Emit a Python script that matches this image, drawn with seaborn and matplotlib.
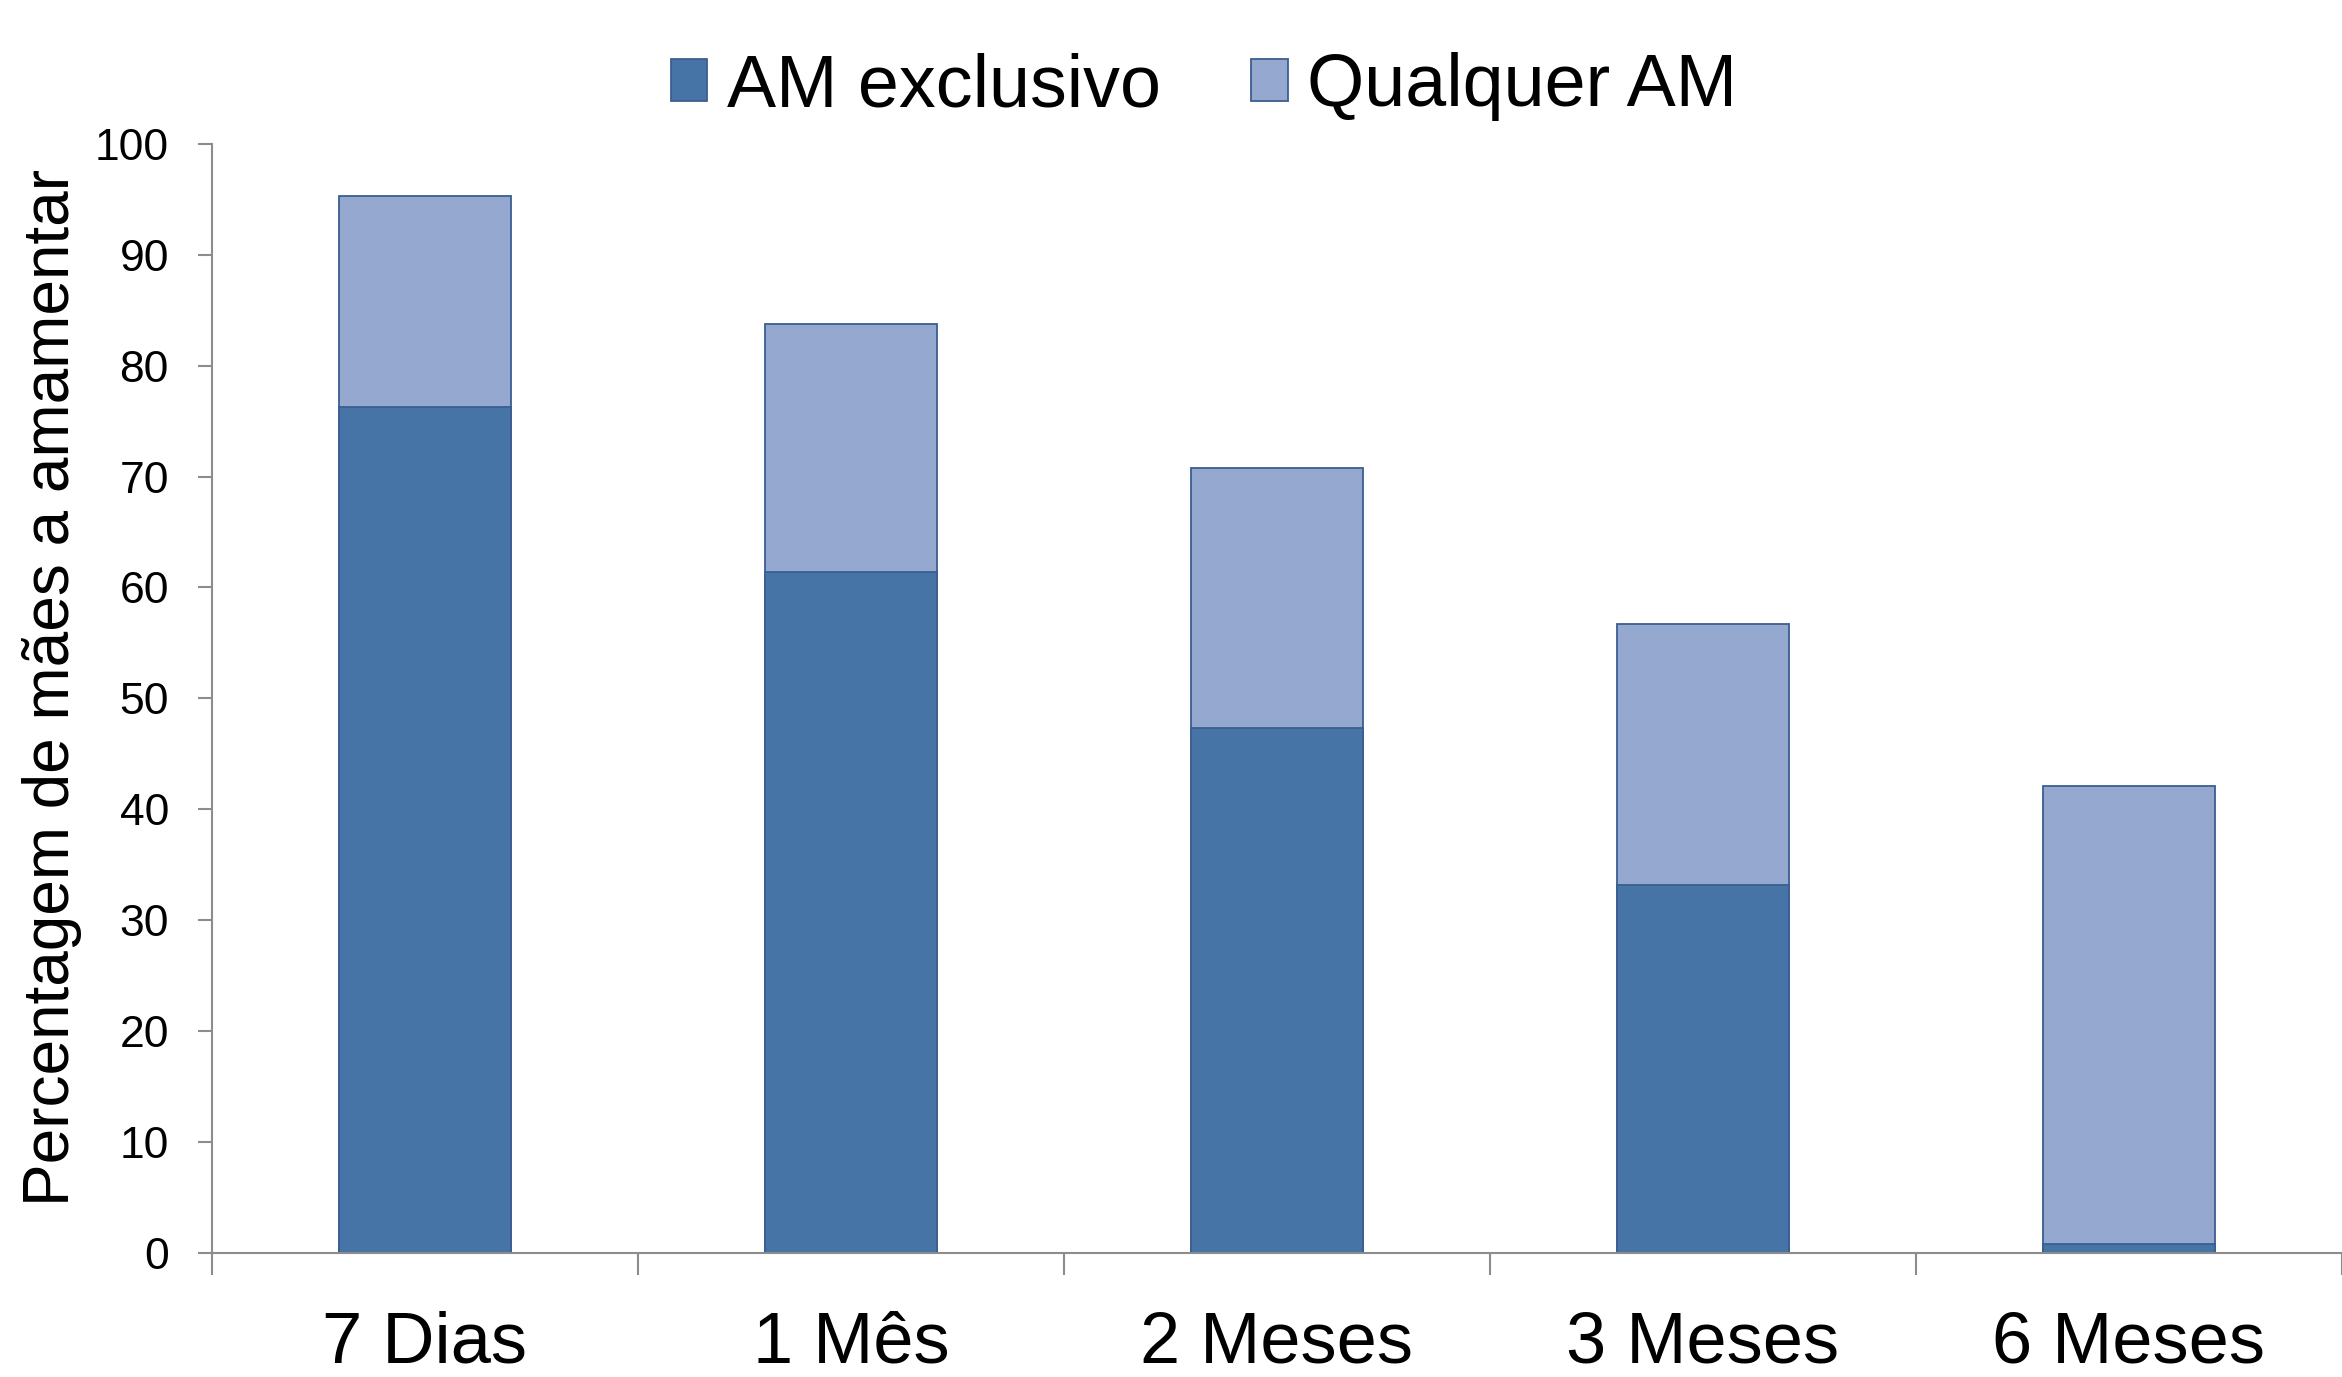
import matplotlib
matplotlib.use("Agg")
import matplotlib.pyplot as plt
from matplotlib.ticker import FixedLocator, NullFormatter
import seaborn as sns
import pandas as pd

# Breastfeeding prevalence by infant age
categories = ["7 Dias", "1 Mês", "2 Meses", "3 Meses", "6 Meses"]
any_bf = [95.3, 83.8, 70.8, 56.7, 42.1]        # Qualquer AM
exclusive_bf = [76.3, 61.4, 47.3, 33.2, 0.8]   # AM exclusivo
y_ticks = [0, 10, 20, 30, 40, 50, 60, 70, 80, 90, 100]

series_names = ["AM exclusivo", "Qualquer AM"]
dark_blue = "#4674A7"
light_blue = "#95A9D0"
edge_blue = "#3B5E90"
axis_grey = "#8C8C8C"

df_any = pd.DataFrame({"categoria": categories, "valor": any_bf})
df_exc = pd.DataFrame({"categoria": categories, "valor": exclusive_bf})

sns.set_style("white")
plt.rcParams["font.family"] = ["Liberation Sans", "DejaVu Sans"]
plt.rcParams["text.color"] = "black"

fig = plt.figure(figsize=(23.42, 13.77), dpi=100)
ax = fig.add_axes([0.0905, 0.0903, 0.9095, 0.8051])

# Overlapping bars: total breastfeeding behind, exclusive in front
sns.barplot(data=df_any, x="categoria", y="valor", order=categories,
            color=light_blue, edgecolor=edge_blue, linewidth=1.3,
            width=0.405, saturation=1, ax=ax, label=series_names[1])
sns.barplot(data=df_exc, x="categoria", y="valor", order=categories,
            color=dark_blue, edgecolor=edge_blue, linewidth=1.3,
            width=0.405, saturation=1, ax=ax, label=series_names[0])

handles, labels = ax.get_legend_handles_labels()
if ax.get_legend() is not None:
    ax.get_legend().remove()

ax.set_xlim(-0.5, len(categories) - 0.5)
ax.set_ylim(0, 100)
ax.set_yticks(y_ticks)
ax.set_yticklabels([str(t) for t in y_ticks])

# Category labels at bar centres, tick marks at the category boundaries
ax.set_xticks(range(len(categories)))
ax.set_xticklabels(categories)
ax.xaxis.set_minor_locator(FixedLocator([i - 0.5 for i in range(len(categories) + 1)]))
ax.xaxis.set_minor_formatter(NullFormatter())
ax.tick_params(axis="x", which="major", length=0, pad=42, labelsize=52, labelcolor="black")
ax.tick_params(axis="x", which="minor", length=16, width=1.5, color=axis_grey, direction="out", bottom=True)
ax.tick_params(axis="y", which="major", length=10, width=1.5, color=axis_grey, direction="out",
               pad=21, labelsize=32, labelcolor="black", left=True)

for side in ["top", "right"]:
    ax.spines[side].set_visible(False)
for side in ["left", "bottom"]:
    ax.spines[side].set_color(axis_grey)
    ax.spines[side].set_linewidth(1.5)

ax.set_xlabel("")
ax.set_ylabel("Percentagem de mães a amamentar", fontsize=46, color="black")
ax.yaxis.set_label_coords(-0.061, 0.51)

order = [labels.index(n) for n in series_names]
leg = fig.legend([handles[i] for i in order], [labels[i] for i in order],
                 loc="center", bbox_to_anchor=(0.514, 0.937), ncol=2, frameon=False,
                 fontsize=53, handlelength=0.5, handleheight=0.5, handletextpad=0.26,
                 columnspacing=1.23, borderaxespad=0, labelcolor="black")

fig.savefig("out.png", dpi=100)
